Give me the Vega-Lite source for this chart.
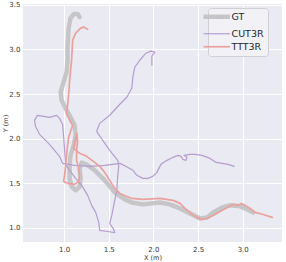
{
  "$schema": "https://vega.github.io/schema/vega-lite/v6.json",
  "width": 259,
  "height": 238,
  "autosize": {"type": "none"},
  "padding": {"left": 23, "top": 4, "right": 4, "bottom": 20},
  "background": "white",
  "config": {
    "font": "DejaVu Sans",
    "view": {"fill": "#EAEAF2", "stroke": null},
    "axis": {"domain": false, "ticks": false, "grid": true, "gridColor": "white", "gridWidth": 1, "labelFontSize": 7, "labelColor": "#333333", "titleFontSize": 6.5, "titleFontWeight": "normal", "titleColor": "#333333"}
  },
  "data": {"values": [
    {"s":"GT","i":0,"x":1.174,"y":3.363},{"s":"GT","i":1,"x":1.152,"y":3.397},{"s":"GT","i":2,"x":1.107,"y":3.397},{"s":"GT","i":3,"x":1.073,"y":3.352},{"s":"GT","i":4,"x":1.051,"y":3.24},{"s":"GT","i":5,"x":1.039,"y":3.048},{"s":"GT","i":6,"x":1.039,"y":2.88},{"s":"GT","i":7,"x":1.028,"y":2.745},{"s":"GT","i":8,"x":0.994,"y":2.633},{"s":"GT","i":9,"x":0.961,"y":2.521},{"s":"GT","i":10,"x":0.972,"y":2.43},{"s":"GT","i":11,"x":1.017,"y":2.34},{"s":"GT","i":12,"x":1.073,"y":2.239},{"s":"GT","i":13,"x":1.118,"y":2.149},{"s":"GT","i":14,"x":1.129,"y":2.036},{"s":"GT","i":15,"x":1.107,"y":1.925},{"s":"GT","i":16,"x":1.073,"y":1.812},{"s":"GT","i":17,"x":1.062,"y":1.7},{"s":"GT","i":18,"x":1.062,"y":1.554},{"s":"GT","i":19,"x":1.084,"y":1.464},{"s":"GT","i":20,"x":1.129,"y":1.419},{"s":"GT","i":21,"x":1.174,"y":1.46},{"s":"GT","i":22,"x":1.185,"y":1.55},{"s":"GT","i":23,"x":1.174,"y":1.66},{"s":"GT","i":24,"x":1.196,"y":1.73},{"s":"GT","i":25,"x":1.252,"y":1.709},{"s":"GT","i":26,"x":1.343,"y":1.644},{"s":"GT","i":27,"x":1.455,"y":1.531},{"s":"GT","i":28,"x":1.567,"y":1.397},{"s":"GT","i":29,"x":1.68,"y":1.318},{"s":"GT","i":30,"x":1.758,"y":1.284},{"s":"GT","i":31,"x":1.882,"y":1.262},{"s":"GT","i":32,"x":2.073,"y":1.284},{"s":"GT","i":33,"x":2.185,"y":1.262},{"s":"GT","i":34,"x":2.298,"y":1.217},{"s":"GT","i":35,"x":2.41,"y":1.161},{"s":"GT","i":36,"x":2.522,"y":1.104},{"s":"GT","i":37,"x":2.601,"y":1.116},{"s":"GT","i":38,"x":2.669,"y":1.172},{"s":"GT","i":39,"x":2.77,"y":1.228},{"s":"GT","i":40,"x":2.86,"y":1.251},{"s":"GT","i":41,"x":2.972,"y":1.24},{"s":"GT","i":42,"x":3.05,"y":1.206},{"s":"GT","i":43,"x":3.118,"y":1.172},
    {"s":"CUT3R","i":0,"x":1.983,"y":2.824},{"s":"CUT3R","i":1,"x":1.983,"y":2.925},{"s":"CUT3R","i":2,"x":2.017,"y":2.97},{"s":"CUT3R","i":3,"x":1.972,"y":2.981},{"s":"CUT3R","i":4,"x":1.916,"y":2.958},{"s":"CUT3R","i":5,"x":1.848,"y":2.879},{"s":"CUT3R","i":6,"x":1.792,"y":2.801},{"s":"CUT3R","i":7,"x":1.77,"y":2.689},{"s":"CUT3R","i":8,"x":1.758,"y":2.565},{"s":"CUT3R","i":9,"x":1.702,"y":2.464},{"s":"CUT3R","i":10,"x":1.624,"y":2.385},{"s":"CUT3R","i":11,"x":1.511,"y":2.262},{"s":"CUT3R","i":12,"x":1.399,"y":2.171},{"s":"CUT3R","i":13,"x":1.365,"y":2.082},{"s":"CUT3R","i":14,"x":1.433,"y":1.981},{"s":"CUT3R","i":15,"x":1.511,"y":1.869},{"s":"CUT3R","i":16,"x":1.601,"y":1.756},{"s":"CUT3R","i":17,"x":1.612,"y":1.689},{"s":"CUT3R","i":18,"x":1.601,"y":1.588},{"s":"CUT3R","i":19,"x":1.59,"y":1.419},{"s":"CUT3R","i":20,"x":1.556,"y":1.251},{"s":"CUT3R","i":21,"x":1.534,"y":1.138},{"s":"CUT3R","i":22,"x":1.511,"y":1.048},{"s":"CUT3R","i":23,"x":1.556,"y":0.981},{"s":"CUT3R","i":24,"x":1.567,"y":0.946},{"s":"CUT3R","i":25,"x":1.488,"y":0.958},{"s":"CUT3R","i":26,"x":1.399,"y":0.97},{"s":"CUT3R","i":27,"x":1.388,"y":1.06},{"s":"CUT3R","i":28,"x":1.354,"y":1.172},{"s":"CUT3R","i":29,"x":1.309,"y":1.251},{"s":"CUT3R","i":30,"x":1.264,"y":1.363},{"s":"CUT3R","i":31,"x":1.197,"y":1.475},{"s":"CUT3R","i":32,"x":1.129,"y":1.554},{"s":"CUT3R","i":33,"x":1.062,"y":1.644},{"s":"CUT3R","i":34,"x":1.017,"y":1.711},{"s":"CUT3R","i":35,"x":1.006,"y":1.869},{"s":"CUT3R","i":36,"x":0.994,"y":2.036},{"s":"CUT3R","i":37,"x":0.983,"y":2.16},{"s":"CUT3R","i":38,"x":0.949,"y":2.227},{"s":"CUT3R","i":39,"x":0.916,"y":2.261},{"s":"CUT3R","i":40,"x":0.837,"y":2.238},{"s":"CUT3R","i":41,"x":0.77,"y":2.25},{"s":"CUT3R","i":42,"x":0.702,"y":2.261},{"s":"CUT3R","i":43,"x":0.669,"y":2.205},{"s":"CUT3R","i":44,"x":0.68,"y":2.138},{"s":"CUT3R","i":45,"x":0.725,"y":2.048},{"s":"CUT3R","i":46,"x":0.837,"y":1.936},{"s":"CUT3R","i":47,"x":0.949,"y":1.801},{"s":"CUT3R","i":48,"x":0.983,"y":1.722},{"s":"CUT3R","i":49,"x":1.118,"y":1.7},{"s":"CUT3R","i":50,"x":1.287,"y":1.689},{"s":"CUT3R","i":51,"x":1.455,"y":1.7},{"s":"CUT3R","i":52,"x":1.624,"y":1.722},{"s":"CUT3R","i":53,"x":1.691,"y":1.689},{"s":"CUT3R","i":54,"x":1.77,"y":1.644},{"s":"CUT3R","i":55,"x":1.815,"y":1.588},{"s":"CUT3R","i":56,"x":1.882,"y":1.554},{"s":"CUT3R","i":57,"x":1.938,"y":1.554},{"s":"CUT3R","i":58,"x":1.994,"y":1.576},{"s":"CUT3R","i":59,"x":2.039,"y":1.621},{"s":"CUT3R","i":60,"x":2.084,"y":1.711},{"s":"CUT3R","i":61,"x":2.152,"y":1.756},{"s":"CUT3R","i":62,"x":2.219,"y":1.79},{"s":"CUT3R","i":63,"x":2.275,"y":1.812},{"s":"CUT3R","i":64,"x":2.309,"y":1.801},{"s":"CUT3R","i":65,"x":2.331,"y":1.767},{"s":"CUT3R","i":66,"x":2.365,"y":1.756},{"s":"CUT3R","i":67,"x":2.376,"y":1.79},{"s":"CUT3R","i":68,"x":2.343,"y":1.812},{"s":"CUT3R","i":69,"x":2.41,"y":1.823},{"s":"CUT3R","i":70,"x":2.466,"y":1.823},{"s":"CUT3R","i":71,"x":2.545,"y":1.812},{"s":"CUT3R","i":72,"x":2.635,"y":1.778},{"s":"CUT3R","i":73,"x":2.702,"y":1.733},{"s":"CUT3R","i":74,"x":2.77,"y":1.722},{"s":"CUT3R","i":75,"x":2.837,"y":1.711},{"s":"CUT3R","i":76,"x":2.904,"y":1.689},
    {"s":"TTT3R","i":0,"x":1.264,"y":3.228},{"s":"TTT3R","i":1,"x":1.219,"y":3.251},{"s":"TTT3R","i":2,"x":1.185,"y":3.239},{"s":"TTT3R","i":3,"x":1.152,"y":3.206},{"s":"TTT3R","i":4,"x":1.129,"y":3.183},{"s":"TTT3R","i":5,"x":1.096,"y":3.104},{"s":"TTT3R","i":6,"x":1.084,"y":2.88},{"s":"TTT3R","i":7,"x":1.062,"y":2.655},{"s":"TTT3R","i":8,"x":1.051,"y":2.487},{"s":"TTT3R","i":9,"x":1.039,"y":2.373},{"s":"TTT3R","i":10,"x":1.028,"y":2.283},{"s":"TTT3R","i":11,"x":1.062,"y":2.206},{"s":"TTT3R","i":12,"x":1.096,"y":2.149},{"s":"TTT3R","i":13,"x":1.073,"y":2.082},{"s":"TTT3R","i":14,"x":1.051,"y":2.013},{"s":"TTT3R","i":15,"x":1.039,"y":1.925},{"s":"TTT3R","i":16,"x":1.028,"y":1.812},{"s":"TTT3R","i":17,"x":1.017,"y":1.7},{"s":"TTT3R","i":18,"x":1.006,"y":1.588},{"s":"TTT3R","i":19,"x":0.994,"y":1.52},{"s":"TTT3R","i":20,"x":1.039,"y":1.498},{"s":"TTT3R","i":21,"x":1.118,"y":1.487},{"s":"TTT3R","i":22,"x":1.163,"y":1.52},{"s":"TTT3R","i":23,"x":1.174,"y":1.588},{"s":"TTT3R","i":24,"x":1.163,"y":1.666},{"s":"TTT3R","i":25,"x":1.14,"y":1.756},{"s":"TTT3R","i":26,"x":1.14,"y":1.869},{"s":"TTT3R","i":27,"x":1.152,"y":1.981},{"s":"TTT3R","i":28,"x":1.14,"y":2.059},{"s":"TTT3R","i":29,"x":1.107,"y":1.891},{"s":"TTT3R","i":30,"x":1.174,"y":1.835},{"s":"TTT3R","i":31,"x":1.253,"y":1.801},{"s":"TTT3R","i":32,"x":1.343,"y":1.734},{"s":"TTT3R","i":33,"x":1.399,"y":1.689},{"s":"TTT3R","i":34,"x":1.455,"y":1.621},{"s":"TTT3R","i":35,"x":1.511,"y":1.531},{"s":"TTT3R","i":36,"x":1.567,"y":1.442},{"s":"TTT3R","i":37,"x":1.624,"y":1.385},{"s":"TTT3R","i":38,"x":1.758,"y":1.329},{"s":"TTT3R","i":39,"x":1.882,"y":1.318},{"s":"TTT3R","i":40,"x":2.073,"y":1.329},{"s":"TTT3R","i":41,"x":2.219,"y":1.307},{"s":"TTT3R","i":42,"x":2.298,"y":1.273},{"s":"TTT3R","i":43,"x":2.354,"y":1.217},{"s":"TTT3R","i":44,"x":2.433,"y":1.149},{"s":"TTT3R","i":45,"x":2.489,"y":1.116},{"s":"TTT3R","i":46,"x":2.545,"y":1.093},{"s":"TTT3R","i":47,"x":2.601,"y":1.104},{"s":"TTT3R","i":48,"x":2.669,"y":1.138},{"s":"TTT3R","i":49,"x":2.747,"y":1.183},{"s":"TTT3R","i":50,"x":2.826,"y":1.228},{"s":"TTT3R","i":51,"x":2.893,"y":1.262},{"s":"TTT3R","i":52,"x":2.949,"y":1.251},{"s":"TTT3R","i":53,"x":2.983,"y":1.273},{"s":"TTT3R","i":54,"x":3.028,"y":1.251},{"s":"TTT3R","i":55,"x":3.084,"y":1.217},{"s":"TTT3R","i":56,"x":3.14,"y":1.172},{"s":"TTT3R","i":57,"x":3.23,"y":1.149},{"s":"TTT3R","i":58,"x":3.331,"y":1.116}
  ]},
  "mark": {"type": "line", "strokeCap": "round", "strokeJoin": "round"},
  "encoding": {
    "x": {"field": "x", "type": "quantitative", "title": "X (m)", "scale": {"domain": [0.54, 3.44], "nice": false, "zero": false}, "axis": {"values": [1.0, 1.5, 2.0, 2.5, 3.0], "format": ".1f", "labelPadding": 3, "titlePadding": 2}},
    "y": {"field": "y", "type": "quantitative", "title": "Y (m)", "scale": {"domain": [0.84, 3.51], "nice": false, "zero": false}, "axis": {"values": [1.0, 1.5, 2.0, 2.5, 3.0, 3.5], "format": ".1f", "labelPadding": 3, "titleX": -15, "titleBaseline": "bottom"}},
    "order": {"field": "i", "type": "quantitative"},
    "color": {"field": "s", "type": "nominal", "title": null, "scale": {"domain": ["GT", "CUT3R", "TTT3R"], "range": ["#c6c6c8", "#b59dd0", "#eaa19d"]},
      "legend": {"orient": "none", "legendX": 185, "legendY": 4, "symbolType": "stroke", "symbolSize": 700, "symbolStrokeWidth": 1.4, "labelFontSize": 9.5, "labelColor": "#262626", "labelOffset": 10, "fillColor": "#F2F2F6", "strokeColor": "#cfcfd6", "cornerRadius": 3, "padding": 4, "rowPadding": 2, "symbolOffset": 0,
        "encode": {"symbols": {"update": {"strokeWidth": {"signal": "datum.value === 'GT' ? 4.5 : datum.value === 'TTT3R' ? 1.7 : 1.2"}}}}}},
    "strokeWidth": {"condition": [{"test": "datum.s === 'GT'", "value": 4.5}, {"test": "datum.s === 'TTT3R'", "value": 1.7}], "value": 1.2}
  }
}
